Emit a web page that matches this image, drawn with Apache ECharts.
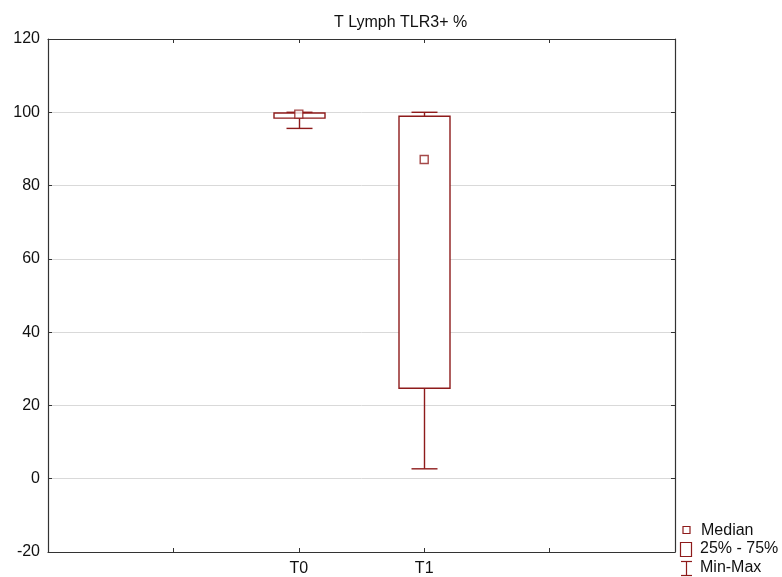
<!DOCTYPE html>
<html>
<head>
<meta charset="utf-8">
<script src="https://cdn.jsdelivr.net/npm/echarts@6/dist/echarts.min.js"></script>
<style>
  html, body { margin: 0; padding: 0; background: #fff; }
  #chart { width: 782px; height: 577px; }
</style>
</head>
<body>
<div id="chart"></div>
<script>
// Groups and their box statistics
const categories = ['T0', 'T1'];
const minValues = [95.6, 2.7];
const q1Values = [98.4, 24.7];
const medianValues = [99.5, 87.1];
const q3Values = [99.8, 98.9];
const maxValues = [100, 100];
const yTicks = [-20, 0, 20, 40, 60, 80, 100, 120];

const BOX_COLOR = '#8e1b1b';
const AXIS_COLOR = '#333';
const FONT = 'Liberation Sans, Arial, sans-serif';

// Category axis padded with empty slots so the two groups sit in the middle
const axisCats = ['', '', categories[0], categories[1], '', ''];

const boxData = categories.map((c, i) => [c, minValues[i], q1Values[i], medianValues[i], q3Values[i], maxValues[i]]);
const medianData = categories.map((c, i) => [c, medianValues[i]]);

function renderBox(params, api) {
  const x = api.value(0);
  const pMin = api.coord([x, api.value(1)]);
  const pQ1 = api.coord([x, api.value(2)]);
  const pQ3 = api.coord([x, api.value(4)]);
  const pMax = api.coord([x, api.value(5)]);
  const cx = Math.round(pMin[0]) + 0.5;
  const boxHalf = 25.5;
  const capHalf = 13;
  const style = { stroke: BOX_COLOR, lineWidth: 1.4, fill: null };
  return {
    type: 'group',
    children: [
      { type: 'line', shape: { x1: cx, y1: pMin[1], x2: cx, y2: pMax[1] }, style },
      { type: 'line', shape: { x1: cx - capHalf, y1: pMin[1], x2: cx + capHalf, y2: pMin[1] }, style },
      { type: 'line', shape: { x1: cx - capHalf, y1: pMax[1], x2: cx + capHalf, y2: pMax[1] }, style },
      { type: 'rect', shape: { x: cx - boxHalf, y: pQ3[1], width: boxHalf * 2, height: pQ1[1] - pQ3[1] },
        style: { stroke: BOX_COLOR, lineWidth: 1.4, fill: '#fff' } }
    ]
  };
}

const chart = echarts.init(document.getElementById('chart'), null, { renderer: 'canvas' });

const tickShown = (i) => i > 0 && i < axisCats.length - 1;
const legendX = 686;
const legendFont = '16px ' + FONT;

chart.setOption({
  animation: false,
  backgroundColor: '#fff',
  textStyle: { fontFamily: FONT },
  title: {
    text: 'T Lymph TLR3+ %',
    left: 329,
    top: 10,
    textStyle: { fontFamily: FONT, fontSize: 16, fontWeight: 'normal', color: '#111' }
  },
  grid: { left: 48, right: 107, top: 39, bottom: 24, containLabel: false },
  xAxis: [
    {
      type: 'category',
      data: axisCats,
      boundaryGap: false,
      axisLine: { onZero: false, lineStyle: { color: AXIS_COLOR, width: 1.2 } },
      axisTick: { inside: true, length: 4, lineStyle: { color: AXIS_COLOR }, interval: tickShown },
      axisLabel: { color: '#111', fontSize: 16, fontFamily: FONT, margin: 9, interval: 0 },
      splitLine: { show: false }
    },
    {
      type: 'category',
      position: 'top',
      data: axisCats,
      boundaryGap: false,
      axisLine: { onZero: false, lineStyle: { color: AXIS_COLOR, width: 1.2 } },
      axisTick: { inside: true, length: 4, lineStyle: { color: AXIS_COLOR }, interval: tickShown },
      axisLabel: { show: false },
      splitLine: { show: false }
    }
  ],
  yAxis: [
    {
      type: 'value',
      min: yTicks[0],
      max: yTicks[yTicks.length - 1],
      interval: 20,
      axisLine: { show: true, onZero: false, lineStyle: { color: AXIS_COLOR, width: 1.2 } },
      axisTick: { show: true, inside: true, length: 4, lineStyle: { color: AXIS_COLOR } },
      axisLabel: { color: '#111', fontSize: 16, fontFamily: FONT, margin: 8 },
      splitLine: { show: true, lineStyle: { color: '#d9d9d9', width: 1 } }
    },
    {
      type: 'value',
      position: 'right',
      min: yTicks[0],
      max: yTicks[yTicks.length - 1],
      interval: 20,
      axisLine: { show: true, onZero: false, lineStyle: { color: AXIS_COLOR, width: 1.2 } },
      axisTick: { show: true, inside: true, length: 4, lineStyle: { color: AXIS_COLOR } },
      axisLabel: { show: false },
      splitLine: { show: false }
    }
  ],
  series: [
    {
      name: '25% - 75%',
      type: 'custom',
      renderItem: renderBox,
      encode: { x: 0, y: [1, 2, 3, 4, 5] },
      data: boxData,
      z: 2
    },
    {
      name: 'Median',
      type: 'scatter',
      data: medianData,
      symbol: 'rect',
      symbolSize: 8,
      itemStyle: { color: '#fff', borderColor: BOX_COLOR, borderWidth: 1.4 },
      z: 3
    }
  ],
  graphic: [
    // Median key
    { type: 'rect', shape: { x: legendX - 3, y: 526.5, width: 7, height: 7 },
      style: { stroke: BOX_COLOR, lineWidth: 1.2, fill: '#fff' } },
    { type: 'text', x: 701, y: 531, style: { text: 'Median', font: legendFont, fill: '#111', verticalAlign: 'middle' } },
    // Box key
    { type: 'rect', shape: { x: legendX - 5.5, y: 542.5, width: 11, height: 14 },
      style: { stroke: BOX_COLOR, lineWidth: 1.2, fill: '#fff' } },
    { type: 'text', x: 700, y: 549, style: { text: '25% - 75%', font: legendFont, fill: '#111', verticalAlign: 'middle' } },
    // Min-Max key
    { type: 'line', shape: { x1: legendX + 0.5, y1: 561.5, x2: legendX + 0.5, y2: 575.5 }, style: { stroke: BOX_COLOR, lineWidth: 1.2 } },
    { type: 'line', shape: { x1: legendX - 5, y1: 561.5, x2: legendX + 6, y2: 561.5 }, style: { stroke: BOX_COLOR, lineWidth: 1.2 } },
    { type: 'line', shape: { x1: legendX - 5, y1: 575.5, x2: legendX + 6, y2: 575.5 }, style: { stroke: BOX_COLOR, lineWidth: 1.2 } },
    { type: 'text', x: 700, y: 567.5, style: { text: 'Min-Max', font: legendFont, fill: '#111', verticalAlign: 'middle' } }
  ]
});
</script>
</body>
</html>
